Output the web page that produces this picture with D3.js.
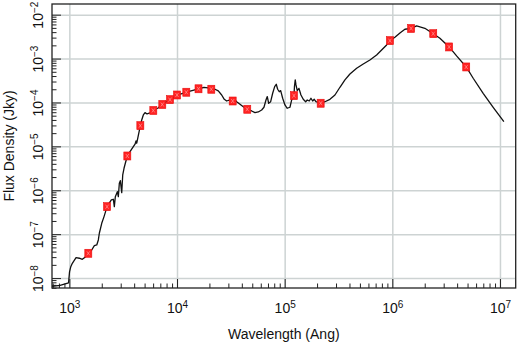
<!DOCTYPE html>
<html>
<head>
<meta charset="utf-8">
<script src="https://cdn.jsdelivr.net/npm/d3@7"></script>
<style>
  body { margin: 0; background: #fff; }
  svg { display: block; font-family: "Liberation Sans", Arial, Helvetica, sans-serif; }
  .grid line { stroke: #cdd3d3; stroke-width: 1.5; }
  .grid path { display: none; }
  .ticks line { stroke: #222; stroke-width: 1; }
  .ticks path { display: none; }
  .labels path, .labels line { display: none; }
  .labels text { font-size: 14px; fill: #111; }
</style>
</head>
<body>
<div class="sed-container"></div>
<script>
// model SED (wavelength in Ang, flux in Jy)
const model_wave = [
  690, 820, 983, 1004, 1031, 1066, 1154, 1238, 1320, 1399,
  1500, 1614, 1707, 1797, 1859, 1899, 1999, 2100, 2240, 2337,
  2455, 2562, 2617, 2674, 2791, 2851, 2913, 2976, 3066, 3132,
  3220, 3311, 3456, 3661, 4074, 4162, 4225, 4316, 4565, 4701,
  4866, 5046, 5266, 5616, 6025, 6663, 7302, 7905, 8610, 9183,
  10000, 11130, 12200, 13780, 15840, 17810, 19400, 20830, 22530, 24180,
  26000, 27490, 28930, 31050, 32900, 34550, 35830, 38460, 41270, 44950,
  49380, 53000, 56880, 61150, 64240, 67060, 68950, 71030, 74130, 77380,
  80770, 83560, 86100, 89110, 91830, 95830, 100600, 105700, 112000, 116200,
  122000, 123300, 125400, 127400, 130900, 135800, 141700, 148800, 156700, 162100,
  169200, 175500, 182000, 188300, 195200, 216000, 236700, 263400, 293200, 326200,
  363000, 404000, 466200, 537000, 619400, 714900, 795500, 885100, 950000, 1057000,
  1177000, 1309000, 1495000, 1681000, 2007000, 2400000, 2767000, 3370000, 3954000, 4860000,
  5640000, 6980000, 8650000, 10870000
];
const model_flux = [
  6.44e-9, 6.78e-9, 7.73e-9, 1.38e-8, 1.82e-8, 2.17e-8, 2.92e-8, 2.83e-8, 2.68e-8, 2.98e-8,
  3.67e-8, 4.36e-8, 5.47e-8, 5.67e-8, 7.38e-8, 1.05e-7, 1.77e-7, 2.51e-7, 4.23e-7, 5.06e-7,
  6.01e-7, 6.24e-7, 4.23e-7, 7.15e-7, 9.29e-7, 7.15e-7, 1.44e-6, 1.66e-6, 8.81e-7, 2.23e-6,
  3.17e-6, 4.12e-6, 6.04e-6, 7.57e-6, 1.12e-5, 1.33e-5, 1.18e-5, 1.53e-5, 2.96e-5, 3.99e-5,
  5.19e-5, 5.86e-5, 5.47e-5, 5.76e-5, 6.57e-5, 7.5e-5, 9.0e-5, 1.03e-4, 1.16e-4, 1.27e-4,
  1.48e-4, 1.60e-4, 1.71e-4, 1.87e-4, 2.05e-4, 2.20e-4, 2.14e-4, 2.0e-4, 2.0e-4, 1.83e-4,
  1.48e-4, 1.18e-4, 1.08e-4, 1.14e-4, 1.08e-4, 1.14e-4, 1.04e-4, 9.1e-5, 8.0e-5, 7.0e-5,
  6.4e-5, 5.86e-5, 6.08e-5, 6.75e-5, 7.78e-5, 1.14e-4, 1.36e-4, 9.6e-5, 1.04e-4, 1.62e-4,
  2.29e-4, 2.60e-4, 2.0e-4, 1.76e-4, 1.86e-4, 1.25e-4, 8.77e-5, 7.38e-5, 7.78e-5, 1.14e-4,
  1.43e-4, 2.29e-4, 3.26e-4, 2.51e-4, 1.86e-4, 2.10e-4, 1.48e-4, 1.18e-4, 1.04e-4, 1.14e-4,
  1.08e-4, 1.25e-4, 1.08e-4, 1.18e-4, 1.04e-4, 9.6e-5, 1.04e-4, 1.18e-4, 1.48e-4, 2.22e-4,
  3.26e-4, 4.46e-4, 6.01e-4, 7.53e-4, 9.29e-4, 1.21e-3, 1.57e-3, 2.04e-3, 2.56e-3, 3.05e-3,
  3.83e-3, 4.65e-3, 4.85e-3, 5.53e-3, 4.90e-3, 3.69e-3, 2.9e-3, 1.84e-3, 1.15e-3, 6.44e-4,
  3.56e-4, 1.62e-4, 7.78e-5, 3.66e-5
];
// photometry points
const phot_wave = [1500, 2240, 3456, 4565, 6025, 7302, 8610, 10000, 12200, 15840,
  20830, 32900, 44950, 122000, 216000, 950000, 1495000, 2400000, 3370000, 4860000];
const phot_flux = [3.67e-8, 4.23e-7, 6.04e-6, 2.96e-5, 6.57e-5, 9.0e-5, 1.16e-4, 1.48e-4, 1.71e-4, 2.05e-4,
  2.0e-4, 1.08e-4, 7.0e-5, 1.43e-4, 9.6e-5, 2.56e-3, 4.85e-3, 3.69e-3, 1.84e-3, 6.44e-4];
// tick label exponents
const x_tick_exps = [3, 4, 5, 6, 7];
const y_tick_exps = [-8, -7, -6, -5, -4, -3, -2];

const x_domain = [690, 1.4e7];
const y_domain = [5.94e-9, 1.75e-2];

// minor ticks 1..9 x 10^n inside the domain
function log_minor(domain, lo, hi){
    const out = [];
    for (let e = lo; e <= hi; e++){
        for (let m = 2; m <= 9; m++){
            const v = m * Math.pow(10, e);
            if (v >= domain[0] && v <= domain[1]) out.push(v);
        }
    }
    return out;
}

// "10" + superscript exponent
function sup_label(sel, exp_of){
    sel.each(function(d){
        const t = d3.select(this);
        t.text('10');
        t.append('tspan')
            .attr('dy', '-0.48em')
            .style('font-size', '10px')
            .text(String(exp_of(d)).replace('-', '\u2212'));
    });
}

function draw(){
    const svg_width = 520;
    const svg_height = 345;
    const m = {left: 52, top: 4, right: 4.3, bottom: 57};
    const w = svg_width - m.left - m.right;
    const h = svg_height - m.top - m.bottom;

    const svg = d3.select('.sed-container').append('svg')
        .attr('width', svg_width)
        .attr('height', svg_height);

    const x = d3.scaleLog().domain(x_domain).range([m.left, m.left + w]);
    const y = d3.scaleLog().domain(y_domain).range([m.top + h, m.top]);

    const x_major = x_tick_exps.map(e => Math.pow(10, e));
    const y_major = y_tick_exps.map(e => Math.pow(10, e));

    // grid
    svg.append('g').attr('class', 'grid')
        .attr('transform', `translate(0,${m.top + h})`)
        .call(d3.axisBottom(x).tickValues(x_major).tickSize(-h).tickFormat(''));
    svg.append('g').attr('class', 'grid')
        .attr('transform', `translate(${m.left},0)`)
        .call(d3.axisLeft(y).tickValues(y_major).tickSize(-w).tickFormat(''));

    // ticks pointing inward
    svg.append('g').attr('class', 'ticks')
        .attr('transform', `translate(0,${m.top + h})`)
        .call(d3.axisBottom(x).tickValues(log_minor(x_domain, 2, 7)).tickSize(-4.5).tickFormat(''));
    svg.append('g').attr('class', 'ticks')
        .attr('transform', `translate(0,${m.top + h})`)
        .call(d3.axisBottom(x).tickValues(x_major).tickSize(-9).tickFormat(''));
    svg.append('g').attr('class', 'ticks')
        .attr('transform', `translate(${m.left},0)`)
        .call(d3.axisLeft(y).tickValues(log_minor(y_domain, -9, -2)).tickSize(-4.5).tickFormat(''));
    svg.append('g').attr('class', 'ticks')
        .attr('transform', `translate(${m.left},0)`)
        .call(d3.axisLeft(y).tickValues(y_major).tickSize(-9).tickFormat(''));

    // tick labels
    const xl = svg.append('g').attr('class', 'labels')
        .attr('transform', `translate(0,${m.top + h})`)
        .call(d3.axisBottom(x).tickValues(x_major).tickSize(0).tickFormat(d => d));
    xl.selectAll('text').attr('y', 25).attr('dy', 0).attr('text-anchor', 'middle')
        .call(sup_label, d => Math.round(Math.log10(d)));

    const yl = svg.append('g').attr('class', 'labels')
        .attr('transform', `translate(${m.left},0)`)
        .call(d3.axisLeft(y).tickValues(y_major).tickSize(0).tickFormat(d => d));
    yl.selectAll('text').attr('x', 0).attr('dy', 0).attr('text-anchor', 'middle')
        .attr('transform', 'translate(-9,0) rotate(-90)')
        .call(sup_label, d => Math.round(Math.log10(d)));

    // clip + model line
    svg.append('clipPath').attr('id', 'plot-clip')
        .append('rect').attr('x', m.left).attr('y', m.top).attr('width', w).attr('height', h);

    const model = model_wave.map((d, i) => ({wave: d, flux: model_flux[i]}));
    const line = d3.line().x(d => x(d.wave)).y(d => y(d.flux)).curve(d3.curveLinear);
    svg.append('path')
        .datum(model)
        .attr('clip-path', 'url(#plot-clip)')
        .attr('d', line)
        .attr('fill', 'none')
        .attr('stroke', '#111')
        .attr('stroke-width', 1.3)
        .attr('stroke-linejoin', 'round');

    // photometry markers
    const phot = phot_wave.map((d, i) => ({wave: d, flux: phot_flux[i]}));
    const pts = svg.append('g').selectAll('g').data(phot).enter().append('g')
        .attr('transform', d => `translate(${x(d.wave)},${y(d.flux)})`);
    pts.append('rect')
        .attr('x', -3.5).attr('y', -4).attr('width', 7).attr('height', 8)
        .attr('fill', '#ff2222').attr('stroke', '#e81010').attr('stroke-width', 0.6);
    pts.append('path')
        .attr('d', 'M-1.5,-2L1.5,2M1.5,-2L-1.5,2')
        .attr('stroke', '#ff9a9a').attr('stroke-width', 0.7);

    // frame
    svg.append('rect')
        .attr('x', m.left).attr('y', m.top).attr('width', w).attr('height', h)
        .attr('fill', 'none').attr('stroke', '#222').attr('stroke-width', 1.3);

    // axis titles
    svg.append('text')
        .attr('x', m.left + w / 2).attr('y', 339)
        .attr('text-anchor', 'middle').style('font-size', '14px').attr('fill', '#111')
        .text('Wavelength (Ang)');
    svg.append('text')
        .attr('transform', `translate(13.5,${m.top + h / 2}) rotate(-90)`)
        .attr('text-anchor', 'middle').style('font-size', '14px').attr('fill', '#111')
        .text('Flux Density (Jky)');
}

draw();
</script>
</body>
</html>
